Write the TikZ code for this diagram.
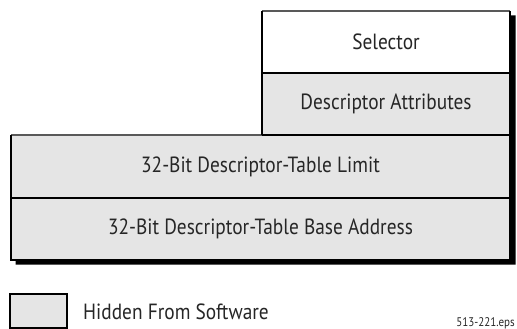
\documentclass[tikz,border=0pt]{standalone}
\usepackage{fontspec}
\setmainfont[FakeStretch=0.88]{PT Sans}
\begin{document}
\begin{tikzpicture}[x=1pt,y=-1pt,
  lbl/.style={font=\fontsize{22}{25}\selectfont, text=black!85},
  cell/.style={rectangle, inner sep=0pt, outer sep=0pt, anchor=north west},
  frame/.style={line width=1.8pt, black},
  topline/.style={line width=1.2pt, black!65},
  dropsh/.style={fill=black}]
\useasboundingbox (0,0) rectangle (517,329);
% cells
\node[cell, fill=white, minimum width=248pt, minimum height=62pt] (sel) at (262,11) {};
\node[cell, fill=black!10, minimum width=248pt, minimum height=62pt] (attr) at (262,73) {};
\node[cell, fill=black!10, minimum width=499pt, minimum height=63pt] (lim) at (11,135) {};
\node[cell, fill=black!10, minimum width=499pt, minimum height=62pt] (base) at (11,198) {};
% shadow
\fill[dropsh] (510.5,15.5) -- (515.5,15.5) -- (515.5,264.5) -- (15.5,264.5) -- (15.5,260) -- (510.5,260) -- cycle;
% borders
\draw[topline] (sel.north west) -- (sel.north east);
\draw[topline] (lim.north west) -- (attr.south west);
\draw[frame] (sel.north west) -- (attr.south west);
\draw[frame] (sel.north east) -- (base.south east);
\draw[frame] (sel.south west) -- (sel.south east);
\draw[frame] (attr.south west) -- (attr.south east);
\draw[frame] (lim.north west) -- (base.south west) -- (base.south east);
\draw[frame] (lim.south west) -- (lim.south east);
% labels
\node[lbl] at (sel.center) {Selector};
\node[lbl] at (attr.center) {Descriptor Attributes};
\node[lbl] at (lim.center) {32-Bit Descriptor-Table Limit};
\node[lbl] at (base.center) {32-Bit Descriptor-Table Base Address};
% legend
\node[cell, fill=black!10, draw=black, line width=1.8pt, minimum width=57pt, minimum height=34pt] (leg) at (10,294) {};
\node[lbl, anchor=base west, inner sep=0pt] (legtext) at (83,319) {Hidden From Software};
\node[font=\fontsize{12.5}{14}\selectfont, text=black!85, anchor=base east, inner sep=0pt] (fig) at (515,326) {513-221.eps};
\end{tikzpicture}
\end{document}
